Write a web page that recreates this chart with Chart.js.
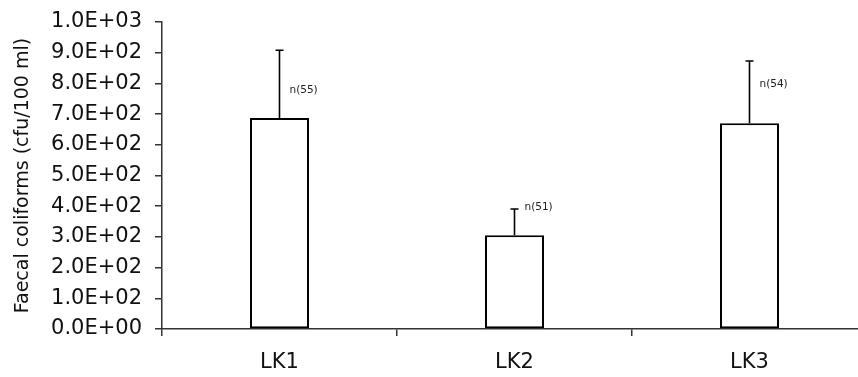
<!DOCTYPE html>
<html>
<head>
<meta charset="utf-8">
<script src="https://cdn.jsdelivr.net/npm/chart.js@4.4.1/dist/chart.umd.min.js"></script>
<style>
  html, body { margin: 0; padding: 0; background: #fff; overflow: hidden; }
  #wrap { position: relative; width: 880px; height: 377px; }
</style>
</head>
<body>
<div id="wrap"><canvas id="chart"></canvas></div>
<script>
// datos
const sites = ["LK1", "LK2", "LK3"];
const meanCounts = [687, 305, 670];
const upperError = [908, 391, 873];
const sampleLabels = ["n(55)", "n(51)", "n(54)"];
const sampleLabelAt = [777, 397, 796];
const yTickValues = [0, 100, 200, 300, 400, 500, 600, 700, 800, 900, 1000];

function sciLabel(val) {
  const [mant, exp] = Number(val).toExponential(1).split("e");
  const sign = exp[0];
  const digits = exp.slice(1).padStart(2, "0");
  return mant + "E" + sign + digits;
}

// barras de error (solo hacia arriba) y etiquetas n()
const errorBarPlugin = {
  id: "errorBars",
  afterDatasetsDraw(chart) {
    const ctx = chart.ctx;
    const yScale = chart.scales.y;
    const meta = chart.getDatasetMeta(0);
    ctx.save();
    ctx.strokeStyle = "#000";
    ctx.lineWidth = 1.6;
    meta.data.forEach((bar, i) => {
      const yTop = yScale.getPixelForValue(upperError[i]);
      const yBar = yScale.getPixelForValue(meanCounts[i]);
      ctx.beginPath();
      ctx.moveTo(bar.x, yBar);
      ctx.lineTo(bar.x, yTop);
      ctx.moveTo(bar.x - 4, yTop);
      ctx.lineTo(bar.x + 4, yTop);
      ctx.stroke();

      ctx.fillStyle = "#222";
      ctx.font = "10.5px 'DejaVu Sans'";
      ctx.textAlign = "left";
      ctx.textBaseline = "middle";
      ctx.fillText(sampleLabels[i], bar.x + 10, yScale.getPixelForValue(sampleLabelAt[i]));
    });
    ctx.restore();
  }
};

const dataChart = {
  labels: sites,
  datasets: [{
    data: meanCounts,
    backgroundColor: "#fff",
    borderColor: "#000",
    borderWidth: 2,
    borderSkipped: false,
    barPercentage: 0.251,
    categoryPercentage: 1
  }]
};

const optionsChart = {
  responsive: true,
  maintainAspectRatio: false,
  animation: false,
  layout: { padding: { left: 0, top: 22, right: 13, bottom: 0 } },
  plugins: {
    legend: { display: false },
    tooltip: { enabled: false }
  },
  scales: {
    x: {
      grid: {
        offset: true,
        drawOnChartArea: false,
        drawTicks: true,
        tickLength: 7,
        color: "#333",
        lineWidth: 1.5
      },
      border: { display: true, color: "#333", width: 1.5 },
      ticks: {
        color: "#111",
        font: { family: "'DejaVu Sans'", size: 21 },
        padding: 14
      },
      afterFit: (scale) => { scale.height = 48; }
    },
    y: {
      min: 0,
      max: 1000,
      afterBuildTicks: (scale) => { scale.ticks = yTickValues.map(v => ({ value: v })); },
      grid: {
        drawOnChartArea: false,
        drawTicks: true,
        tickLength: 7,
        color: "#333",
        lineWidth: 1.5
      },
      border: { display: true, color: "#333", width: 1.5 },
      ticks: {
        color: "#111",
        font: { family: "'DejaVu Sans'", size: 21 },
        padding: 13,
        callback: (val) => sciLabel(val)
      },
      title: {
        display: true,
        text: "Faecal coliforms (cfu/100 ml)",
        color: "#111",
        font: { family: "'DejaVu Sans'", size: 19 },
        padding: { top: 12, bottom: 0 }
      },
      afterFit: (scale) => {
        scale.width = 162;
        scale.paddingTop = 0;
        scale.paddingBottom = 0;
      }
    }
  }
};

new Chart(document.getElementById("chart"), {
  type: "bar",
  data: dataChart,
  options: optionsChart,
  plugins: [errorBarPlugin]
});
</script>
</body>
</html>
